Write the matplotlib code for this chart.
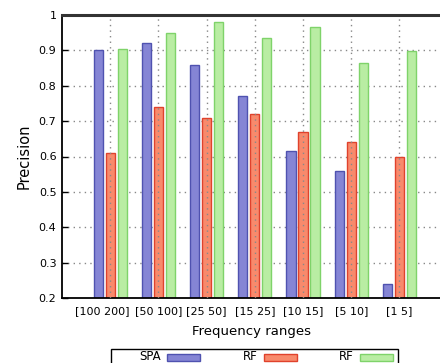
import numpy as np
import matplotlib
matplotlib.use("Agg")
import matplotlib.pyplot as plt
from matplotlib.patches import Rectangle
from matplotlib.transforms import ScaledTranslation

# precision per frequency range
ranges = ["[100 200]", "[50 100]", "[25 50]", "[15 25]", "[10 15]", "[5 10]", "[1 5]"]
spa = [0.90, 0.92, 0.86, 0.77, 0.615, 0.56, 0.24]
rf_a = [0.61, 0.74, 0.71, 0.72, 0.67, 0.64, 0.60]
rf_b = [0.905, 0.95, 0.98, 0.935, 0.965, 0.865, 0.898]
series_names = ["SPA", "RF", "RF"]
yticks = [0.2, 0.3, 0.4, 0.5, 0.6, 0.7, 0.8, 0.9, 1.0]
ytick_labels = ["0.2", "0.3", "0.4", "0.5", "0.6", "0.7", "0.8", "0.9", "1"]

fills = ["#8585d5", "#f88a6c", "#b9eda3"]
edges = ["#4f52b0", "#e0422c", "#7fd36a"]

W, H = 440, 363
fig = plt.figure(figsize=(W / 100, H / 100), dpi=100)
ax = fig.add_axes([62 / W, 65 / H, 1 - 62 / W, 283 / H])

x = np.arange(len(ranges))
width = 0.19
offset = 0.25
for i, vals in enumerate([spa, rf_a, rf_b]):
    ax.bar(x + (i - 1) * offset, vals, width, bottom=0,
           color=fills[i], edgecolor=edges[i], linewidth=1.0, zorder=2)

ax.set_ylim(0.2, 1.0)
ax.set_xlim(-1, -1 + (W - 62) / 48.2)
ax.set_yticks(yticks)
ax.set_yticklabels(ytick_labels, fontsize=8)
ax.set_xticks(x)
ax.set_xticklabels(ranges, fontsize=8)
ax.tick_params(axis="y", direction="in", length=4, width=1, pad=4)
ax.tick_params(axis="x", length=0, pad=6)

# first label is long, nudge it left so it doesn't run into the next one
lbl0 = ax.get_xticklabels()[0]
lbl0.set_transform(lbl0.get_transform() + ScaledTranslation(-8 / 100, 0, fig.dpi_scale_trans))

# dotted grid: horizontal behind the bars, vertical on top
for y in yticks[1:-1]:
    ax.axhline(y, color="#888888", ls=(0, (1, 3)), lw=1, zorder=1)
for xi in x:
    ax.axvline(xi, color="#888888", ls=(0, (1, 3)), lw=1, zorder=3)

ax.spines["right"].set_visible(False)
ax.spines["top"].set_linewidth(2.2)
ax.spines["top"].set_color("#333333")
ax.spines["left"].set_linewidth(1.3)
ax.spines["bottom"].set_linewidth(1.3)

ax.set_ylabel("Precision", fontsize=10.5, labelpad=5)
ax.set_xlabel("Frequency ranges", fontsize=9.5, labelpad=6)

# key box along the bottom, gnuplot style: right-justified text then sample
def px(xp, yp):
    return xp / W, 1 - yp / H

box_l, box_r, box_t = 111, 398, 349
fig.patches.append(Rectangle(px(box_l, box_t + 20), (box_r - box_l) / W, 20 / H,
                             transform=fig.transFigure, fill=False,
                             edgecolor="black", linewidth=1.0))
for i, name in enumerate(series_names):
    sx = 167 + i * 96.5
    fig.patches.append(Rectangle(px(sx, 361), 33 / W, 7.5 / H,
                                 transform=fig.transFigure, facecolor=fills[i],
                                 edgecolor=edges[i], linewidth=1.0))
    tx, ty = px(sx - 6, 357)
    fig.text(tx, ty, name, ha="right", va="center", fontsize=8.5)

fig.savefig("out.png", dpi=100)
